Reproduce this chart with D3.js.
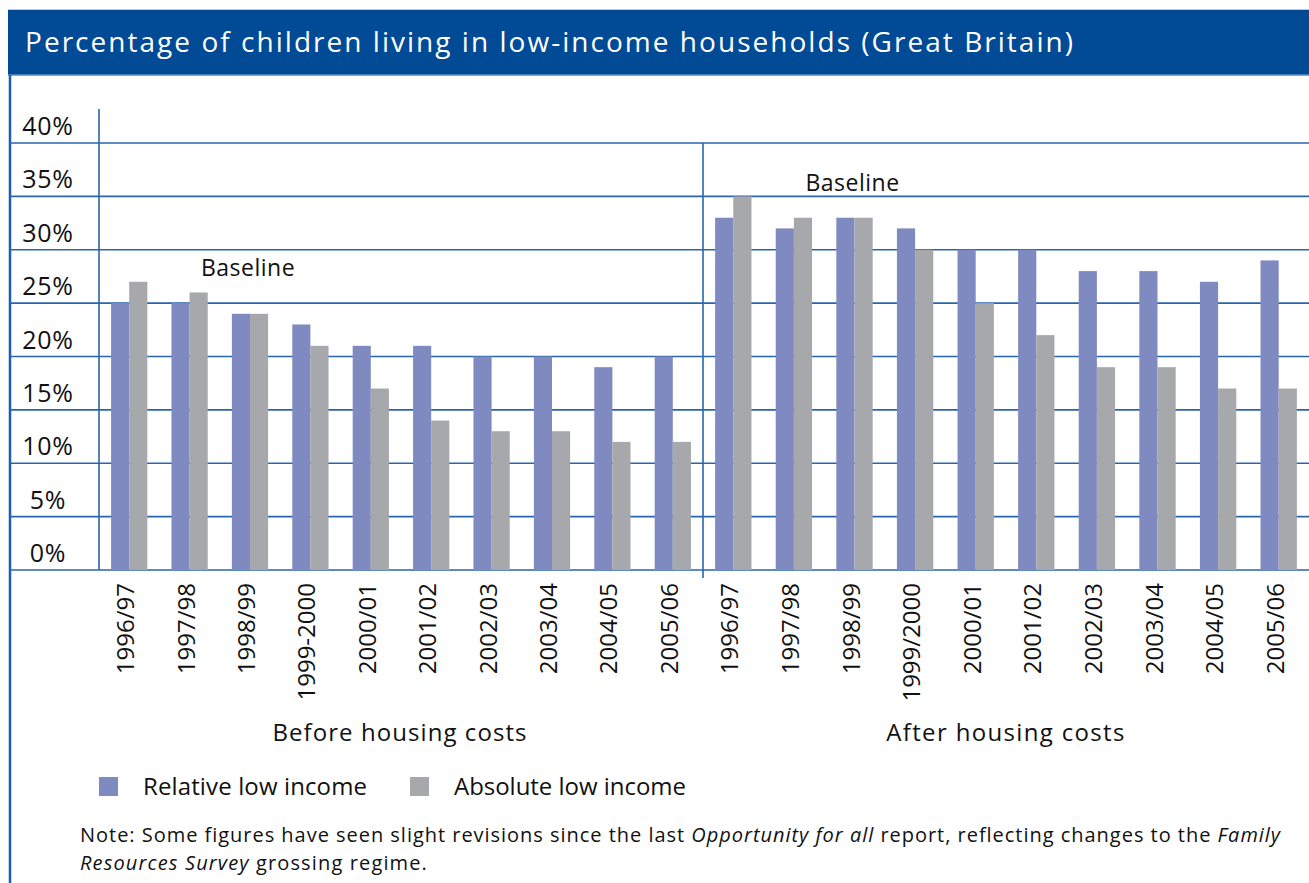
<!DOCTYPE html>
<html>
<head>
<meta charset="utf-8">
<script src="https://cdn.jsdelivr.net/npm/d3@7"></script>
<style>
  html, body { margin: 0; padding: 0; background: #ffffff; }
  svg { display: block; font-family: "Open Sans", "Noto Sans", sans-serif; }
</style>
</head>
<body>
<svg id="chart" width="1309" height="883"></svg>
<script>
// Survey years for each panel
const yearsBefore = ["1996/97", "1997/98", "1998/99", "1999-2000", "2000/01", "2001/02", "2002/03", "2003/04", "2004/05", "2005/06"];
const yearsAfter  = ["1996/97", "1997/98", "1998/99", "1999/2000", "2000/01", "2001/02", "2002/03", "2003/04", "2004/05", "2005/06"];

// Percentage of children in low-income households
const relativeBefore = [25, 25, 24, 23, 21, 21, 20, 20, 19, 20];
const absoluteBefore = [27, 26, 24, 21, 17, 14, 13, 13, 12, 12];
const relativeAfter  = [33, 32, 33, 32, 30, 30, 28, 28, 27, 29];
const absoluteAfter  = [35, 33, 33, 30, 25, 22, 19, 19, 17, 17];

const seriesNames = ["Relative low income", "Absolute low income"];
const yTicks = [0, 5, 10, 15, 20, 25, 30, 35, 40];
const panelTitles = ["Before housing costs", "After housing costs"];
const baselineYear = "1998/99";

const colors = { "Relative low income": "#7f8bc0", "Absolute low income": "#a7a8ab" };
const blue = "#004a96";
const gridBlue = "#2b64ae";
const ink = "#111111";

const svg = d3.select("#chart");
const W = 1309, H = 883;

// Spread a text's letters so that it spans the given width
function fitWidth(sel, target) {
  const node = sel.node();
  const n = node.getNumberOfChars();
  const natural = node.getComputedTextLength();
  if (n > 1) sel.attr("letter-spacing", (target - natural) / (n - 1));
  return sel;
}

// Multi-line paragraph of mixed roman/italic pieces, each line spread to a width
function paragraph(parent, x, lines, size) {
  const text = parent.append("text").attr("font-size", size).attr("fill", ink)
    .attr("xml:space", "preserve");
  lines.forEach(line => {
    const spans = line.pieces.map((p, i) => {
      const s = text.append("tspan")
        .attr("font-style", p.italic ? "italic" : "normal")
        .text(p.t);
      if (i === 0) s.attr("x", x).attr("y", line.y);
      return s;
    });
    const total = d3.sum(spans, s => s.node().getComputedTextLength());
    const chars = d3.sum(line.pieces, p => p.t.length);
    const ls = (line.width - total) / chars;
    spans.forEach(s => s.attr("letter-spacing", ls));
  });
  return text;
}

// Title bar
svg.append("rect").attr("x", 8).attr("y", 9).attr("width", W - 8).attr("height", 66)
  .attr("fill", blue);
svg.append("line").attr("x1", 8).attr("x2", W).attr("y1", 9.5).attr("y2", 9.5)
  .attr("stroke", "#b9c9e0").attr("stroke-width", 1);
svg.append("line").attr("x1", 8).attr("x2", W).attr("y1", 75).attr("y2", 75)
  .attr("stroke", "#5e8cc6").attr("stroke-width", 1.5);
fitWidth(svg.append("text").attr("x", 25).attr("y", 52)
  .attr("fill", "#ffffff").attr("font-size", 28)
  .text("Percentage of children living in low-income households (Great Britain)"), 1048);

// Left frame line
svg.append("line").attr("x1", 10).attr("x2", 10).attr("y1", 75).attr("y2", H)
  .attr("stroke", "#1f5cab").attr("stroke-width", 2.5);

// Scales
const y = d3.scaleLinear().domain([0, 40]).range([570, 143]);
const axisX = 99, midX = 703, rightX = W;

// Horizontal gridlines
svg.append("g").selectAll("line").data(yTicks).join("line")
  .attr("x1", 10).attr("x2", rightX)
  .attr("y1", d => y(d)).attr("y2", d => y(d))
  .attr("stroke", gridBlue).attr("stroke-width", 1.6);

// Y axis line and labels
svg.append("line").attr("x1", axisX).attr("x2", axisX).attr("y1", 109).attr("y2", y(0))
  .attr("stroke", gridBlue).attr("stroke-width", 1.6);
svg.append("g").selectAll("text").data(yTicks).join("text")
  .attr("x", 48).attr("y", d => y(d) - 8)
  .attr("text-anchor", "middle").attr("font-size", 25).attr("fill", ink)
  .attr("letter-spacing", 0.8)
  .text(d => d + "%");

// Divider between panels
svg.append("line").attr("x1", midX).attr("x2", midX).attr("y1", y(40)).attr("y2", 578)
  .attr("stroke", gridBlue).attr("stroke-width", 1.6);

const panels = [
  { x0: axisX, x1: midX, years: yearsBefore, rel: relativeBefore, abs: absoluteBefore,
    title: panelTitles[0], titleX: 400, titleW: 254, baseY: 27.5 },
  { x0: midX, x1: rightX, years: yearsAfter, rel: relativeAfter, abs: absoluteAfter,
    title: panelTitles[1], titleX: 1006, titleW: 238, baseY: 35.5 }
];

panels.forEach(p => {
  const x = d3.scaleBand().domain(d3.range(p.years.length)).range([p.x0, p.x1])
    .paddingInner(0.4).paddingOuter(0.2);
  const xs = d3.scaleBand().domain(seriesNames).range([0, x.bandwidth()]);
  const rows = p.years.map((yr, i) => ({ i, yr, vals: [p.rel[i], p.abs[i]] }));

  const g = svg.append("g");
  const grp = g.selectAll("g.cat").data(rows).join("g")
    .attr("transform", d => `translate(${x(d.i)},0)`);
  grp.selectAll("rect").data(d => d.vals.map((v, k) => ({ k, v }))).join("rect")
    .attr("x", d => xs(seriesNames[d.k]))
    .attr("width", xs.bandwidth())
    .attr("y", d => y(d.v))
    .attr("height", d => y(0) - y(d.v))
    .attr("fill", d => colors[seriesNames[d.k]]);

  // Rotated category labels
  g.selectAll("text.yr").data(rows).join("text")
    .attr("class", "yr")
    .attr("transform", d => `translate(${x(d.i) + x.bandwidth() / 2 + 5},583) rotate(-90)`)
    .attr("text-anchor", "end")
    .attr("font-size", 24).attr("fill", ink)
    .text(d => d.yr);

  // Baseline marker
  const bi = p.years.indexOf(baselineYear);
  g.append("text")
    .attr("x", x(bi) + x.bandwidth() / 2 - 2)
    .attr("y", y(p.baseY))
    .attr("text-anchor", "middle").attr("font-size", 23).attr("fill", ink)
    .attr("letter-spacing", 0.5)
    .text("Baseline");

  // Panel title
  fitWidth(g.append("text")
    .attr("x", p.titleX).attr("y", 741)
    .attr("text-anchor", "middle").attr("font-size", 24).attr("fill", ink)
    .text(p.title), p.titleW);
});

// Legend
const legend = svg.append("g");
const legX = [99, 410];
const legW = [224, 232];
seriesNames.forEach((s, i) => {
  legend.append("rect").attr("x", legX[i]).attr("y", 777).attr("width", 19).attr("height", 19)
    .attr("fill", colors[s]);
  fitWidth(legend.append("text").attr("x", legX[i] + 44).attr("y", 795)
    .attr("font-size", 24).attr("fill", ink).text(s), legW[i]);
});

// Footnote
paragraph(svg.append("g"), 80, [
  { y: 842, width: 1201, pieces: [
    { t: "Note: Some figures have seen slight revisions since the last " },
    { t: "Opportunity for all", italic: true },
    { t: " report, reflecting changes to the " },
    { t: "Family", italic: true }
  ] },
  { y: 870, width: 348, pieces: [
    { t: "Resources Survey", italic: true },
    { t: " grossing regime." }
  ] }
], 20);
</script>
</body>
</html>
